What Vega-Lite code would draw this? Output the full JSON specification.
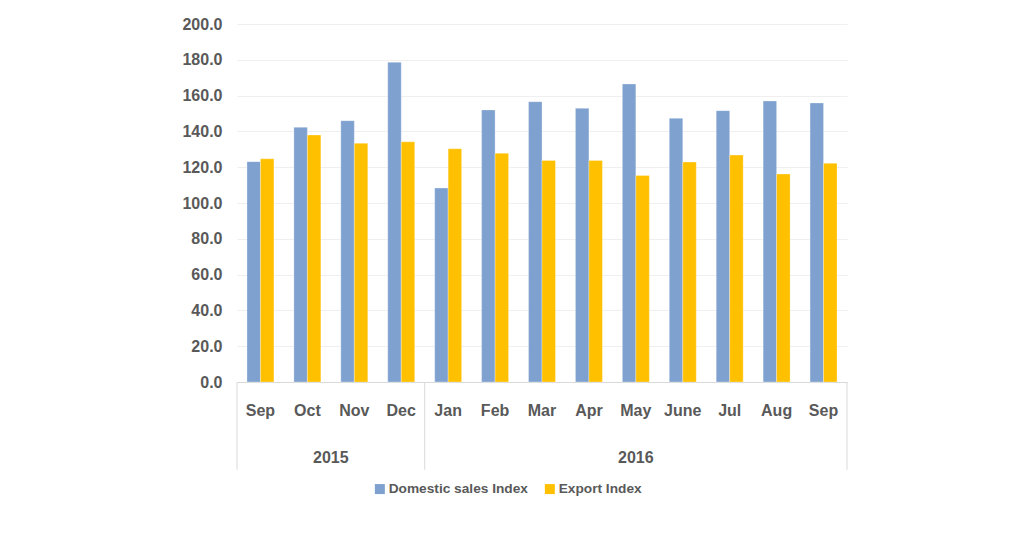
{
  "$schema": "https://vega.github.io/schema/vega-lite/v6.json",
  "width": 610,
  "height": 358,
  "autosize": "none",
  "padding": {"left": 237, "top": 24, "right": 178, "bottom": 161},
  "background": "white",
  "config": {
    "view": {"stroke": null},
    "font": "Liberation Sans",
    "axis": {"labelOverlap": false},
    "axisY": {
      "values": [0, 20, 40, 60, 80, 100, 120, 140, 160, 180, 200],
      "labelOverlap": false,
      "format": ".1f",
      "domain": false,
      "ticks": false,
      "labelPadding": 15,
      "labelFontSize": 16,
      "labelFontWeight": "bold",
      "labelColor": "#595959",
      "gridColor": "#efefef",
      "title": null
    }
  },
  "data": {
    "values": [
      {"key": "2015-Sep", "series": "Domestic sales Index", "value": 123.1},
      {"key": "2015-Sep", "series": "Export Index", "value": 124.7},
      {"key": "2015-Oct", "series": "Domestic sales Index", "value": 142.3},
      {"key": "2015-Oct", "series": "Export Index", "value": 138.0},
      {"key": "2015-Nov", "series": "Domestic sales Index", "value": 146.0},
      {"key": "2015-Nov", "series": "Export Index", "value": 133.4},
      {"key": "2015-Dec", "series": "Domestic sales Index", "value": 178.6},
      {"key": "2015-Dec", "series": "Export Index", "value": 134.2},
      {"key": "2016-Jan", "series": "Domestic sales Index", "value": 108.4},
      {"key": "2016-Jan", "series": "Export Index", "value": 130.3},
      {"key": "2016-Feb", "series": "Domestic sales Index", "value": 152.0},
      {"key": "2016-Feb", "series": "Export Index", "value": 127.8},
      {"key": "2016-Mar", "series": "Domestic sales Index", "value": 156.6},
      {"key": "2016-Mar", "series": "Export Index", "value": 123.8},
      {"key": "2016-Apr", "series": "Domestic sales Index", "value": 152.9},
      {"key": "2016-Apr", "series": "Export Index", "value": 123.8},
      {"key": "2016-May", "series": "Domestic sales Index", "value": 166.5},
      {"key": "2016-May", "series": "Export Index", "value": 115.4},
      {"key": "2016-June", "series": "Domestic sales Index", "value": 147.3},
      {"key": "2016-June", "series": "Export Index", "value": 122.9},
      {"key": "2016-Jul", "series": "Domestic sales Index", "value": 151.6},
      {"key": "2016-Jul", "series": "Export Index", "value": 126.8},
      {"key": "2016-Aug", "series": "Domestic sales Index", "value": 157.0},
      {"key": "2016-Aug", "series": "Export Index", "value": 116.2},
      {"key": "2016-Sep", "series": "Domestic sales Index", "value": 155.9},
      {"key": "2016-Sep", "series": "Export Index", "value": 122.2}
    ]
  },
  "layer": [
    {
      "mark": {"type": "bar", "stroke": "#ffffff", "strokeWidth": 0.6, "strokeOpacity": 0.5},
      "encoding": {
        "x": {
          "field": "key",
          "type": "nominal",
          "title": null,
          "scale": {
            "domain": ["2015-Sep", "2015-Oct", "2015-Nov", "2015-Dec", "2016-Jan", "2016-Feb", "2016-Mar", "2016-Apr", "2016-May", "2016-June", "2016-Jul", "2016-Aug", "2016-Sep"],
            "paddingInner": 0,
            "paddingOuter": 0
          },
          "axis": {
            "labelExpr": "split(datum.value, '-')[1]",
            "labelAngle": 0,
            "ticks": false,
            "labelPadding": 20,
            "labelFontSize": 16,
            "labelFontWeight": "bold",
            "labelColor": "#595959",
            "domainColor": "#d9d9d9",
            "grid": false
          }
        },
        "xOffset": {
          "field": "series",
          "type": "nominal",
          "sort": ["Domestic sales Index", "Export Index"],
          "scale": {"paddingOuter": 0.74, "paddingInner": 0}
        },
        "y": {
          "field": "value",
          "type": "quantitative",
          "title": null,
          "scale": {"domain": [0, 200], "nice": false},
          "axis": {
            "values": [0, 20, 40, 60, 80, 100, 120, 140, 160, 180, 200],
            "labelOverlap": false,
            "format": ".1f"
          }
        },
        "color": {
          "field": "series",
          "type": "nominal",
          "scale": {"domain": ["Domestic sales Index", "Export Index"], "range": ["#7EA1CF", "#FFC000"]},
          "legend": {
            "title": null,
            "orient": "none",
            "direction": "horizontal",
            "legendX": 136,
            "legendY": 458,
            "symbolType": "square",
            "symbolSize": 100,
            "symbolStrokeWidth": 0,
            "labelFontSize": 13.7,
            "labelFontWeight": "bold",
            "labelColor": "#595959",
            "labelOffset": 2,
            "columnPadding": 15
          }
        }
      }
    },
    {
      "data": {"values": [{"key": "2015-Sep"}, {"key": "2016-Jan"}]},
      "mark": {"type": "rule", "color": "#d9d9d9", "strokeWidth": 1},
      "encoding": {
        "x": {"field": "key", "type": "nominal", "bandPosition": 0, "title": null},
        "y": {"datum": 0, "axis": {"values": [0, 20, 40, 60, 80, 100, 120, 140, 160, 180, 200], "labelOverlap": false, "format": ".1f"}},
        "y2": {"datum": -49}
      }
    },
    {
      "data": {"values": [{"key": "2016-Sep"}]},
      "mark": {"type": "rule", "color": "#d9d9d9", "strokeWidth": 1},
      "encoding": {
        "x": {"field": "key", "type": "nominal", "bandPosition": 1, "title": null},
        "y": {"datum": 0, "axis": {"values": [0, 20, 40, 60, 80, 100, 120, 140, 160, 180, 200], "labelOverlap": false, "format": ".1f"}},
        "y2": {"datum": -49}
      }
    },
    {
      "data": {"values": [{"key": "2015-Oct", "year": "2015"}]},
      "mark": {"type": "text", "fontSize": 16, "fontWeight": "bold", "fill": "#595959", "baseline": "middle"},
      "encoding": {
        "x": {"field": "key", "type": "nominal", "bandPosition": 1, "title": null},
        "y": {"datum": -42.5, "axis": {"values": [0, 20, 40, 60, 80, 100, 120, 140, 160, 180, 200], "labelOverlap": false, "format": ".1f"}},
        "text": {"field": "year"}
      }
    },
    {
      "data": {"values": [{"key": "2016-May", "year": "2016"}]},
      "mark": {"type": "text", "fontSize": 16, "fontWeight": "bold", "fill": "#595959", "baseline": "middle"},
      "encoding": {
        "x": {"field": "key", "type": "nominal", "bandPosition": 0.5, "title": null},
        "y": {"datum": -42.5, "axis": {"values": [0, 20, 40, 60, 80, 100, 120, 140, 160, 180, 200], "labelOverlap": false, "format": ".1f"}},
        "text": {"field": "year"}
      }
    }
  ]
}
